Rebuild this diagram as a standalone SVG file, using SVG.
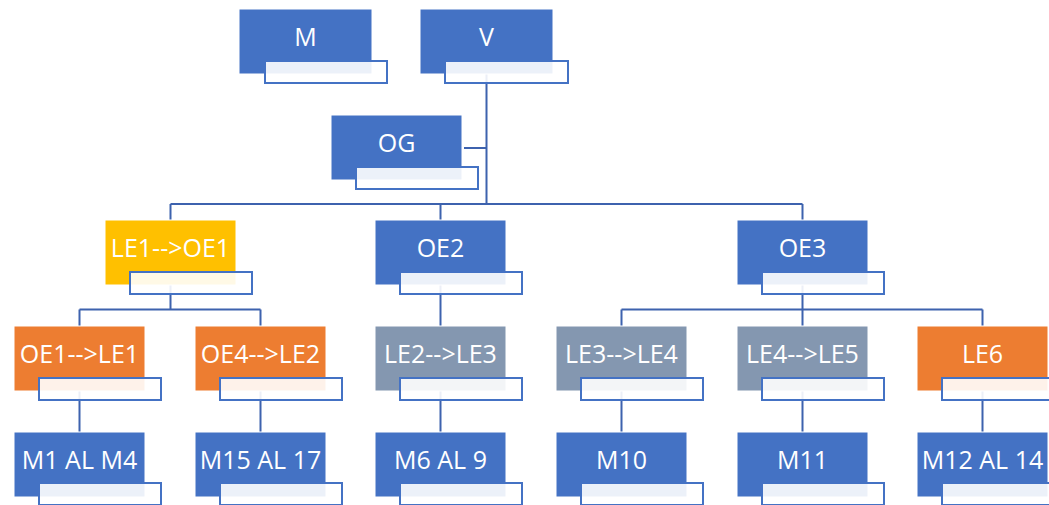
<svg xmlns="http://www.w3.org/2000/svg" width="1049" height="505" viewBox="0 0 1049 505">
<style>
.c{fill:none;stroke:#3D62AE;stroke-width:2}
.b{stroke:#ffffff;stroke-width:1}
.blue{fill:#4472C4}
.yel{fill:#FFC000}
.org{fill:#ED7D31}
.gry{fill:#8497B0}
.t{fill:#ffffff;fill-opacity:0.9;stroke:#4472C4;stroke-width:2}
text{font-family:"Open Sans","Liberation Sans",sans-serif;font-size:25px;fill:#ffffff;text-anchor:middle}
</style>
<rect width="1049" height="505" fill="#ffffff"/>
<g id="connectors">
<path class="c" d="M486.5 74 V204 M464 148 H486.5"/>
<path class="c" d="M170.5 204 H802.5 M170.5 204 V220 M440.5 204 V220 M802.5 204 V220"/>
<path class="c" d="M170.5 285 V309.5 M79.5 309.5 H260.5 M79.5 309.5 V326 M260.5 309.5 V326"/>
<path class="c" d="M440.5 285 V326"/>
<path class="c" d="M802.5 285 V309.5 M621.5 309.5 H982.5 M621.5 309.5 V326 M802.5 309.5 V326 M982.5 309.5 V326"/>
<path class="c" d="M79.5 391 V432 M260.5 391 V432 M440.5 391 V432 M621.5 391 V432 M802.5 391 V432 M982.5 391 V432"/>
</g>
<g id="n-M"><rect class="b blue" x="239" y="9" width="133" height="65"/><rect class="t" x="265" y="61" width="122" height="22"/><text x="305.5" y="46">M</text></g>
<g id="n-V"><rect class="b blue" x="420" y="9" width="133" height="65"/><rect class="t" x="445" y="61" width="123" height="22"/><text x="486.5" y="46">V</text></g>
<g id="n-OG"><rect class="b blue" x="331" y="115" width="131" height="65"/><rect class="t" x="356" y="167" width="122" height="22"/><text x="396.5" y="152">OG</text></g>
<g id="n-LE1OE1"><rect class="b yel" x="105" y="220" width="131" height="65"/><rect class="t" x="130" y="272" width="122" height="22"/><text x="170.5" y="257">LE1--&gt;OE1</text></g>
<g id="n-OE2"><rect class="b blue" x="375" y="220" width="131" height="65"/><rect class="t" x="400" y="272" width="122" height="22"/><text x="440.5" y="257">OE2</text></g>
<g id="n-OE3"><rect class="b blue" x="737" y="220" width="131" height="65"/><rect class="t" x="762" y="272" width="122" height="22"/><text x="802.5" y="257">OE3</text></g>
<g id="n-OE1LE1"><rect class="b org" x="14" y="326" width="131" height="65"/><rect class="t" x="39" y="378" width="122" height="22"/><text x="79.5" y="363">OE1--&gt;LE1</text></g>
<g id="n-OE4LE2"><rect class="b org" x="195" y="326" width="131" height="65"/><rect class="t" x="220" y="378" width="122" height="22"/><text x="260.5" y="363">OE4--&gt;LE2</text></g>
<g id="n-LE2LE3"><rect class="b gry" x="375" y="326" width="131" height="65"/><rect class="t" x="400" y="378" width="122" height="22"/><text x="440.5" y="363">LE2--&gt;LE3</text></g>
<g id="n-LE3LE4"><rect class="b gry" x="556" y="326" width="131" height="65"/><rect class="t" x="581" y="378" width="122" height="22"/><text x="621.5" y="363">LE3--&gt;LE4</text></g>
<g id="n-LE4LE5"><rect class="b gry" x="737" y="326" width="131" height="65"/><rect class="t" x="762" y="378" width="122" height="22"/><text x="802.5" y="363">LE4--&gt;LE5</text></g>
<g id="n-LE6"><rect class="b org" x="917" y="326" width="131" height="65"/><rect class="t" x="942" y="378" width="122" height="22"/><text x="982.5" y="363">LE6</text></g>
<g id="n-M1M4"><rect class="b blue" x="14" y="432" width="131" height="65"/><rect class="t" x="39" y="483" width="122" height="22"/><text x="79.5" y="469">M1 AL M4</text></g>
<g id="n-M15M17"><rect class="b blue" x="195" y="432" width="131" height="65"/><rect class="t" x="220" y="483" width="122" height="22"/><text x="260.5" y="469">M15 AL 17</text></g>
<g id="n-M6M9"><rect class="b blue" x="375" y="432" width="131" height="65"/><rect class="t" x="400" y="483" width="122" height="22"/><text x="440.5" y="469">M6 AL 9</text></g>
<g id="n-M10"><rect class="b blue" x="556" y="432" width="131" height="65"/><rect class="t" x="581" y="483" width="122" height="22"/><text x="621.5" y="469">M10</text></g>
<g id="n-M11"><rect class="b blue" x="737" y="432" width="131" height="65"/><rect class="t" x="762" y="483" width="122" height="22"/><text x="802.5" y="469">M11</text></g>
<g id="n-M12M14"><rect class="b blue" x="917" y="432" width="131" height="65"/><rect class="t" x="942" y="483" width="122" height="22"/><text x="982.5" y="469">M12 AL 14</text></g>
</svg>
